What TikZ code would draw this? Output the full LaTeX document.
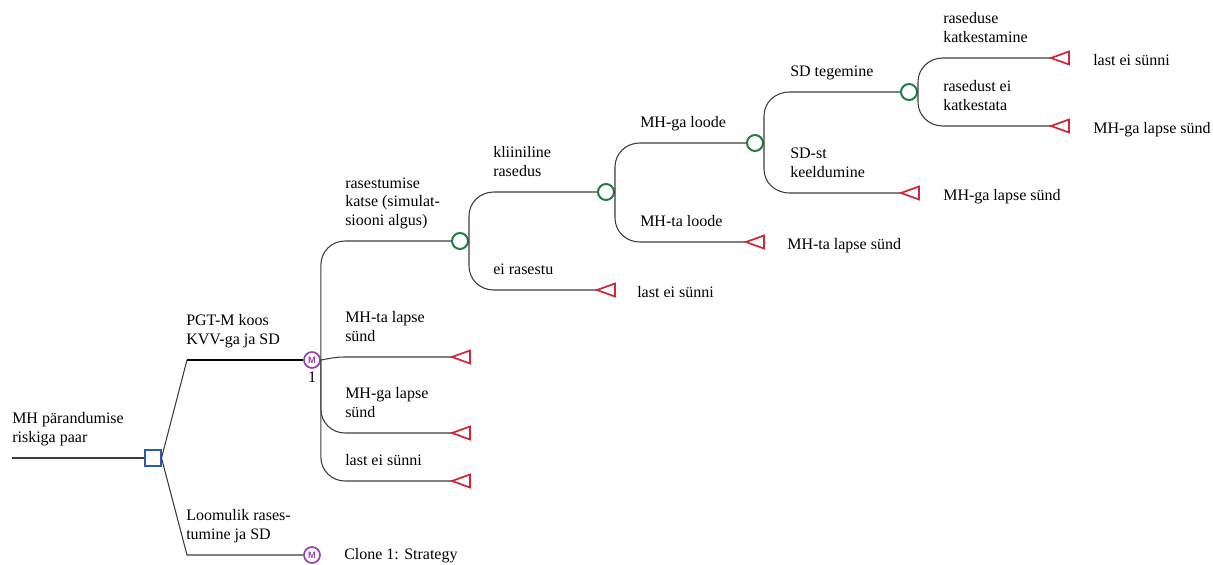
\documentclass[tikz,border=0pt]{standalone}
\usepackage{fontspec}
\setmainfont{Liberation Serif}
\setsansfont{Liberation Sans}
\usepackage{tikz}
\usetikzlibrary{calc,positioning}
\definecolor{brc}{HTML}{3C3C3C}
\definecolor{decc}{HTML}{2B5BAE}
\definecolor{chc}{HTML}{1F7F45}
\definecolor{trc}{HTML}{D0283A}
\definecolor{mkc}{HTML}{9345A8}
\tikzset{
  br/.style={brc,line width=0.8pt},
  fork/.style={to path={-- ($(\tikztostart |- \tikztotarget)!18pt!(\tikztostart)$)
    .. controls ($(\tikztostart |- \tikztotarget)!8pt!(\tikztostart)$)
    and ($(\tikztostart |- \tikztotarget)!8pt!(\tikztotarget)$) .. (\tikztotarget)}},
  dec/.style={draw=decc,line width=1.5pt,minimum size=12pt,inner sep=0pt,fill=white},
  chn/.style={circle,draw=chc,line width=1.5pt,minimum size=12pt,inner sep=0pt,fill=white},
  mrk/.style={circle,draw=mkc,line width=1.3pt,minimum size=12pt,inner sep=0pt,fill=white,text=mkc,font=\sffamily\bfseries\fontsize{7}{7}\selectfont},
  trm/.style={draw=trc,line width=1.3pt,line join=miter},
  lab/.style={anchor=south west,inner sep=0pt,align=left,execute at end node=\strut},
  res/.style={anchor=base west,inner sep=0pt}
}
\begin{document}
\begin{tikzpicture}[x=0.75pt,y=-0.75pt,font=\fontsize{12}{14}\selectfont]
\useasboundingbox (0,0) rectangle (1213,564);
% nodes
\coordinate (r0) at (12,458);
\node[dec] (sq) at (152.5,458) {};
\node[mrk] (m1) at (312,360) {M};
\node[mrk] (m2) at (312,555) {M};
\node[below=-1pt of m1] (n1) {1};
\node[chn] (c1) at (460,241) {};
\node[chn] (c2) at (606,192) {};
\node[chn] (c3) at (755,143) {};
\node[chn] (c4) at (909,92) {};
\coordinate (t1) at (452,357);
\coordinate (t2) at (452,433);
\coordinate (t3) at (452,481);
\coordinate (t4) at (597,290);
\coordinate (t5) at (746,242);
\coordinate (t6) at (901,193);
\coordinate (t7) at (1051,58);
\coordinate (t8) at (1051,126);
% branches
\draw[br] (r0) -- (sq.west);
\draw[br] (sq.east) -- (187,360);
\draw[line width=2.2pt] (187,360) -- (m1.west);
\draw[br] (sq.east) -- (187,555) -- (m2.west);
\draw[br] (m1.east) to[fork] (345,241) -- (c1.west);
\draw[br] (m1.east) to[out=10,in=180] (345,357) -- (t1);
\draw[br] (m1.east) to[fork] (345,433) -- (t2);
\draw[br] (m1.east) to[fork] (345,481) -- (t3);
\draw[br] (c1.east) to[fork] (494,192) -- (c2.west);
\draw[br] (c1.east) to[fork] (494,290) -- (t4);
\draw[br] (c2.east) to[fork] (640,143) -- (c3.west);
\draw[br] (c2.east) to[fork] (640,242) -- (t5);
\draw[br] (c3.east) to[fork] (790,92) -- (c4.west);
\draw[br] (c3.east) to[fork] (790,193) -- (t6);
\draw[br] (c4.east) to[fork] (943,58) -- (t7);
\draw[br] (c4.east) to[fork] (943,126) -- (t8);
\foreach \t in {t1,t2,t3,t4,t5,t6,t7,t8}
  \draw[trm] (\t) -- ++(18,-6.5) -- ++(0,13) -- cycle;
% labels
\node[lab] (l0) at (12,448.5) {MH pärandumise\\riskiga paar};
\node[lab] (l1) at (186,350.5) {PGT-M koos\\KVV-ga ja SD};
\node[lab] (l2) at (186,545.5) {Loomulik rases-\\tumine ja SD};
\node[lab] (l3) at (345,231.5) {rasestumise\\katse (simulat-\\siooni algus)};
\node[lab] (l4) at (345,347.5) {MH-ta lapse\\sünd};
\node[lab] (l5) at (345,423.5) {MH-ga lapse\\sünd};
\node[lab] (l6) at (345,471.5) {last ei sünni};
\node[lab] (l7) at (493,182.5) {kliiniline\\rasedus};
\node[lab] (l8) at (493,280.5) {ei rasestu};
\node[lab] (l9) at (640,133.5) {MH-ga loode};
\node[lab] (l10) at (640,232.5) {MH-ta loode};
\node[lab] (l11) at (790,82.5) {SD tegemine};
\node[lab] (l12) at (790,183.5) {SD-st\\keeldumine};
\node[lab] (l13) at (943,48.5) {raseduse\\katkestamine};
\node[lab] (l14) at (943,116.5) {rasedust ei\\katkestata};
% outcomes
\node[res] (o1) at (637,297) {last ei sünni};
\node[res] (o2) at (787,249) {MH-ta lapse sünd};
\node[res] (o3) at (943,200) {MH-ga lapse sünd};
\node[res] (o4) at (1093,65) {last ei sünni};
\node[res] (o5) at (1093,133) {MH-ga lapse sünd};
\node[res] (o6) at (344,559.5) {Clone 1: Strategy};
\end{tikzpicture}
\end{document}
